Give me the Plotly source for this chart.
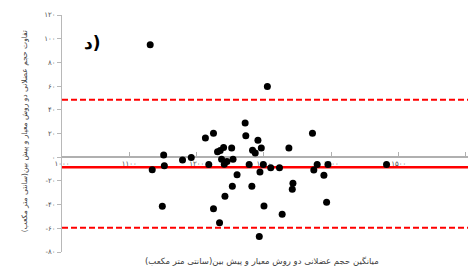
import plotly.graph_objects as go

# Bland-Altman data: mean of two methods (x) and difference (y)
mean_volume = [1131, 1134, 1151, 1152, 1149, 1179, 1192, 1213, 1225, 1218,
               1231, 1235, 1240, 1237, 1241, 1245, 1252, 1254, 1260, 1253,
               1242, 1225, 1234, 1272, 1273, 1278, 1282, 1283, 1287, 1291,
               1296, 1299, 1294, 1300, 1293, 1305, 1310, 1323, 1327, 1337,
               1343, 1342, 1372, 1374, 1379, 1389, 1395, 1393, 1482]
diff_volume = [94.8, -10.5, 1.9, -7.3, -41.4, -2.3, -0.3, 16.3, 20.3, -6.2,
               4.7, 5.6, 8.1, -1.7, -5.9, -3.7, 7.8, -1.7, -14.9, -24.5,
               -32.9, -43.4, -55.4, 28.9, 18.2, -6.2, -24.5, 5.9, 3.6, 14.3,
               7.8, -6.2, -12.4, -41.1, -67.0, 59.6, -9.0, -9.0, -48.1, 7.8,
               -21.9, -27.0, 20.3, -10.7, -6.2, -15.2, -6.2, -38.0, -6.2]

mean_diff = -8.5
upper_loa = 48.5
lower_loa = -59.5

fa = str.maketrans("0123456789", "۰۱۲۳۴۵۶۷۸۹")
y_ticks = [-80, -60, -40, -20, 0, 20, 40, 60, 80, 100, 120]
y_tick_text = [("-" if v < 0 else "") + str(abs(v)).translate(fa) for v in y_ticks]
x_ticks = [1000, 1100, 1200, 1300, 1400, 1500, 1600]
x_tick_text = [str(v).translate(fa) for v in x_ticks]

panel_label = "د)"
x_title = "میانگین حجم عضلانی دو روش معیار و پیش بین(سانتی متر مکعب)"
y_title = "تفاوت حجم عضلانی دو روش معیار و پیش بین(سانتی متر مکعب)"

# force the panel label glyph order as drawn in the reference
panel_disp = "\u202d" + panel_label + "\u202c"

fig = go.Figure()
fig.add_trace(go.Scatter(
    x=mean_volume, y=diff_volume, mode="markers",
    marker=dict(color="black", size=7), showlegend=False, cliponaxis=False))

for val, dash, w in [(mean_diff, "solid", 2.5), (upper_loa, "6px,3px", 2), (lower_loa, "6px,3px", 2)]:
    fig.add_shape(type="line", xref="paper", x0=0, x1=1, yref="y", y0=val, y1=val,
                  line=dict(color="#ff0000", width=w, dash=dash), layer="below")

fig.add_annotation(text="<b>" + panel_disp + "</b>", xref="paper", yref="paper",
                   x=0.074, y=0.882, showarrow=False,
                   font=dict(family="DejaVu Sans", size=17, color="black"),
                   xanchor="center", yanchor="middle")
fig.add_annotation(text=x_title, xref="paper", yref="paper", x=0.493, y=-0.042,
                   showarrow=False, font=dict(family="DejaVu Sans", size=8.5, color="#404040"),
                   xanchor="center", yanchor="middle")
fig.add_annotation(text=y_title, xref="paper", yref="paper", x=-0.093, y=0.51,
                   showarrow=False, textangle=-90,
                   font=dict(family="DejaVu Sans", size=7.5, color="#404040"),
                   xanchor="center", yanchor="middle")

fig.update_layout(
    template="none",
    width=468, height=268,
    margin=dict(l=62, r=0, t=15, b=16, autoexpand=False),
    paper_bgcolor="white", plot_bgcolor="white",
    showlegend=False,
    xaxis=dict(range=[1000, 1603], anchor="free", position=0.4, automargin=False,
               tickvals=x_ticks, ticktext=x_tick_text,
               showline=True, linecolor="#b0b0b0", linewidth=1.5,
               ticks="inside", ticklen=4, tickcolor="#b0b0b0",
               showgrid=False, zeroline=False, layer="below traces",
               tickfont=dict(family="DejaVu Sans", size=7, color="#505050")),
    yaxis=dict(range=[-80, 120], tickvals=y_ticks, ticktext=y_tick_text, automargin=False,
               showline=True, linecolor="#b8b8b8", linewidth=1,
               ticks="outside", ticklen=4, tickcolor="#b8b8b8",
               showgrid=False, zeroline=False,
               tickfont=dict(family="DejaVu Sans", size=7, color="#505050")),
)

fig.write_html("out.html", config={"displayModeBar": False},
               post_script="document.body.style.margin='0';document.body.style.overflow='hidden';")
